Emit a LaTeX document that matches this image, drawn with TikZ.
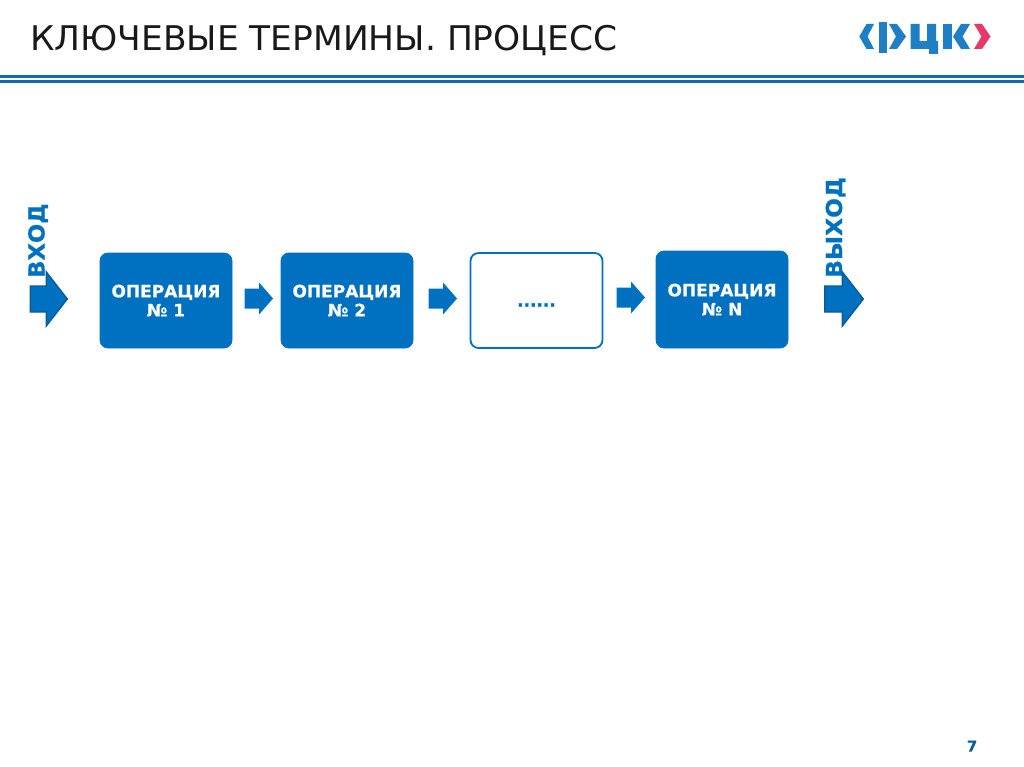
\documentclass[tikz,border=0pt]{standalone}
\usepackage{fontspec}
\usepackage{graphicx}
\setmainfont{DejaVu Sans}[BoldFeatures={FakeBold=0.5}]
\definecolor{fcblue}{HTML}{0070C0}
\definecolor{fcdark}{HTML}{0B5A9A}
\definecolor{fcline}{HTML}{0F69AF}
\definecolor{fclogo}{HTML}{1F7FC4}
\definecolor{fcred}{HTML}{E8386A}
\tikzset{
	opbox/.style={rounded corners=8pt,fill=fcblue,draw=fcblue,line width=0.8pt,text=white,font=\bfseries\fontsize{17}{19}\selectfont,align=center},
	flowarrow/.style={fill=fcblue},
	bigarrow/.style={fill=fcblue,draw=fcdark,line width=1.4pt},
	sidelabel/.style={rotate=90,anchor=base west,inner sep=1pt,text=fcblue,font=\bfseries\fontsize{22}{22}\selectfont},
	logopart/.style={fill=fclogo}
}
\begin{document}
\begin{tikzpicture}[x=1pt,y=-1pt]
\useasboundingbox (0,0) rectangle (1024,767);

%Titre
\node[anchor=base west,inner sep=0pt,text=black!90,font=\fontsize{34}{34}\selectfont] (title) at (30,51) {\scalebox{1.013}[1]{КЛЮЧЕВЫЕ ТЕРМИНЫ. ПРОЦЕСС}};

%Filets
\draw[fcline,line width=3pt] (0,76.5) -- (1024,76.5);
\draw[fcline,line width=3pt] (0,81.5) -- (1024,81.5);

%Logo
\fill[logopart] (859.3,36.5) -- (866.5,24) -- (874,24) -- (867.5,36.5) -- (874,49) -- (866.5,49) -- cycle;
\fill[logopart] (878.7,22.5) rectangle (887.3,53.5);
\fill[logopart] (889,24) -- (897,24) -- (906,36.5) -- (897,49) -- (889,49) -- (896,36.5) -- cycle;
\fill[logopart] (910.5,24) -- (919.5,24) -- (919.5,41) -- (927,41) -- (927,24) -- (936,24) -- (936,41) -- (938,41) -- (938,54) -- (929,54) -- (929,49) -- (910.5,49) -- cycle;
\fill[logopart] (943,24) rectangle (951.5,49);
\fill[logopart] (953,36.5) -- (961,24) -- (970,24) -- (962.5,36.5) -- (970,49) -- (961,49) -- cycle;
\fill[fcred] (974,24) -- (982,24) -- (990.5,36.5) -- (982,49) -- (974,49) -- (981.5,36.5) -- cycle;

%Operations
\node[opbox,minimum width=132pt,minimum height=95pt] (op1) at (166,300.5) {ОПЕРАЦИЯ\\№ 1};
\node[opbox,minimum width=132pt,minimum height=95pt] (op2) at (347,300.5) {ОПЕРАЦИЯ\\№ 2};
\node[opbox,fill=white,text=fcblue,line width=1.8pt,minimum width=132pt,minimum height=95pt] (dots) at (536.5,300.5) {\smash{\raisebox{-6pt}{......}}};
\node[opbox,minimum width=132pt,minimum height=97pt] (opN) at (722,299.5) {ОПЕРАЦИЯ\\№ N};

%Fleches
\foreach \xa/\ya in {273/298.5,457/298.5,645/297.5} {
	\begin{scope}[shift={(\xa,\ya)}]
		\fill[flowarrow] (0,0) -- (-14,-16) -- (-14,-10) -- (-28.5,-10) -- (-28.5,10) -- (-14,10) -- (-14,16) -- cycle;
	\end{scope}
}

%Entree et sortie
\foreach \xa/\long in {67.3/37,863.3/38.5} {
	\begin{scope}[shift={(\xa,299)}]
		\filldraw[bigarrow] (0,0) -- (-21,-27) -- (-21,-13) -- (-\long,-13) -- (-\long,13) -- (-21,13) -- (-21,27) -- cycle;
	\end{scope}
}
\node[sidelabel] (inlabel) at (44.5,279) {\scalebox{1.03}[1]{ВХОД}};
\node[sidelabel] (outlabel) at (842,279) {\scalebox{1.06}[1]{ВЫХОД}};

%Numero
\node[text=fcdark,font=\bfseries\fontsize{15}{15}\selectfont,inner sep=0pt] (page) at (972,746) {7};
\end{tikzpicture}
\end{document}
